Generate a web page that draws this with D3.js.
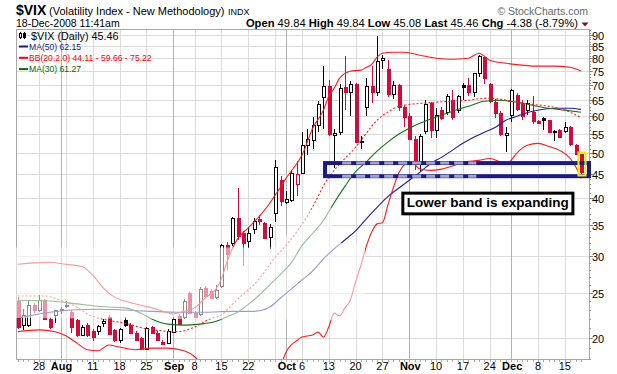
<!DOCTYPE html>
<html><head><meta charset="utf-8">
<script src="https://cdn.jsdelivr.net/npm/d3@7"></script>
<style>
body{margin:0;background:#fff;}
svg{display:block;}
text{font-family:"Liberation Sans",Arial,sans-serif;}
</style></head><body>
<svg id="c" width="617" height="374"></svg>
<script>
const dates = ["2008-07-22","2008-07-23","2008-07-24","2008-07-25","2008-07-28","2008-07-29","2008-07-30","2008-07-31",
"2008-08-01","2008-08-04","2008-08-05","2008-08-06","2008-08-07","2008-08-08","2008-08-11","2008-08-12","2008-08-13","2008-08-14","2008-08-15","2008-08-18","2008-08-19","2008-08-20","2008-08-21","2008-08-22","2008-08-25","2008-08-26","2008-08-27","2008-08-28","2008-08-29",
"2008-09-02","2008-09-03","2008-09-04","2008-09-05","2008-09-08","2008-09-09","2008-09-10","2008-09-11","2008-09-12","2008-09-15","2008-09-16","2008-09-17","2008-09-18","2008-09-19","2008-09-22","2008-09-23","2008-09-24","2008-09-25","2008-09-26","2008-09-29","2008-09-30",
"2008-10-01","2008-10-02","2008-10-03","2008-10-06","2008-10-07","2008-10-08","2008-10-09","2008-10-10","2008-10-13","2008-10-14","2008-10-15","2008-10-16","2008-10-17","2008-10-20","2008-10-21","2008-10-22","2008-10-23","2008-10-24","2008-10-27","2008-10-28","2008-10-29","2008-10-30","2008-10-31",
"2008-11-03","2008-11-04","2008-11-05","2008-11-06","2008-11-07","2008-11-10","2008-11-11","2008-11-12","2008-11-13","2008-11-14","2008-11-17","2008-11-18","2008-11-19","2008-11-20","2008-11-21","2008-11-24","2008-11-25","2008-11-26","2008-11-28",
"2008-12-01","2008-12-02","2008-12-03","2008-12-04","2008-12-05","2008-12-08","2008-12-09","2008-12-10","2008-12-11","2008-12-12","2008-12-15","2008-12-16","2008-12-17","2008-12-18"];

const open = [24.0,21.3,21.3,23.5,22.9,24.1,22.0,22.4,22.9,23.4,
22.7,21.8,20.3,21.3,20.7,20.7,21.5,22.2,20.8,19.8,
21.8,21.3,20.5,20.0,18.9,21.1,20.5,19.6,19.5,20.6,
22.3,22.2,25.0,22.6,22.5,25.6,25.2,24.5,25.8,31.7,
32.0,36.2,33.6,32.4,34.4,36.0,35.4,32.9,37.2,43.7,
39.3,39.7,43.0,45.3,52.0,53.3,57.5,66.1,69.9,54.6,
55.5,69.6,67.8,70.5,52.8,62.9,69.8,67.7,79.3,76.0,
67.2,70.0,62.9,60.0,53.7,47.5,55.8,64.0,56.0,62.0,
61.3,65.0,61.8,70.3,70.0,67.7,74.3,80.5,70.5,64.5,
61.0,54.7,60.3,66.8,64.0,61.9,61.3,58.6,59.6,58.8,
55.4,56.0,55.7,56.8,52.0,49.84];
const high = [24.5,23.1,24.0,23.8,24.7,24.3,22.2,23.0,23.3,24.0,
22.9,21.9,21.3,21.5,20.9,21.3,22.0,22.4,20.9,21.0,
22.2,21.5,20.7,20.1,21.1,21.2,20.7,19.8,20.9,22.2,
22.5,24.3,25.1,22.8,25.7,25.9,25.5,26.0,31.9,32.2,
36.5,42.16,34.0,34.7,36.3,36.8,35.6,35.2,48.4,44.6,
41.5,46.0,48.0,55.5,56.5,59.8,64.9,76.94,72.0,56.5,
70.5,81.17,71.5,71.0,54.5,72.5,77.0,89.53,81.5,79.5,
71.5,70.5,63.5,61.0,54.5,55.0,65.0,64.5,62.5,63.0,
66.9,68.5,66.8,71.0,72.5,74.5,81.48,81.0,71.0,65.5,
61.5,56.8,68.6,67.5,65.0,65.0,66.5,59.0,59.9,59.0,
56.2,56.3,58.3,57.2,52.3,49.84];
const low = [20.9,20.8,21.1,22.6,22.7,21.9,20.9,21.5,22.5,23.2,
20.5,20.1,20.2,20.1,19.7,20.3,21.1,20.3,19.6,19.5,
21.1,20.4,19.7,18.8,18.8,20.4,19.7,19.3,19.4,20.5,
21.3,22.0,22.5,22.1,22.3,24.4,24.3,24.3,25.6,28.0,
31.5,32.5,28.5,31.3,33.5,35.0,32.6,31.0,35.6,38.5,
38.8,39.2,40.5,45.0,49.5,51.0,55.5,56.5,54.5,46.5,
54.8,62.0,60.0,52.5,51.0,60.0,64.0,66.5,76.0,66.0,
65.5,61.5,56.8,53.5,46.0,45.5,55.0,54.0,54.0,59.0,
60.5,58.8,61.0,65.0,66.5,66.0,73.0,70.5,64.0,59.5,
54.5,50.3,58.5,61.5,59.0,60.5,57.8,57.9,56.0,55.5,
53.0,53.8,55.3,51.8,49.5,45.08];
const close = [21.1,22.4,23.5,22.9,24.1,22.0,21.1,22.9,23.1,23.5,
21.1,20.3,21.1,20.3,20.1,21.2,21.7,20.4,19.8,20.9,
21.3,20.5,19.8,18.9,21.0,20.5,19.8,19.4,20.7,22.0,
21.4,24.0,22.6,22.2,25.5,24.6,24.4,25.4,31.7,30.3,
36.22,33.1,32.07,33.59,35.72,35.7,32.82,34.74,46.72,39.39,
39.81,45.26,45.14,52.05,53.68,57.53,63.92,69.95,54.99,55.13,
69.25,67.61,70.33,52.97,53.11,69.65,67.8,79.13,80.06,66.96,
69.96,62.9,59.89,53.68,47.73,54.56,63.68,56.1,60.3,59.6,
66.46,59.83,66.31,69.5,67.64,74.26,80.86,72.67,64.7,60.9,
54.92,55.28,68.51,62.36,60.2,64.1,58.6,58.2,58.9,55.6,
55.8,54.3,56.8,52.2,49.84,45.46];

// overlays: [trading-day index] and value
const upperDays = [0,3,6,9,12,14,16,18,20,23,26,29,31,33,35,37,38,39,40,41,43,45,47,48,49,50,51,53,55,57,58,59,60,62,64,65,66,67,68,70,72,75,78,81,84,86,88,91,94,97,100,103,105];
const upperBand = [28.8,29.0,29.1,28.8,28.5,27.3,25.6,24.5,24.0,23.5,23.05,22.5,22.8,23.2,24.4,25.5,26.8,29.1,31.1,32.7,34.5,36.5,39.0,40.6,42.2,44.1,45.7,49.5,56.6,61.9,66.3,69.0,72.5,75.1,75.5,76.6,77.7,80.5,82.1,82.5,82.5,81.3,80.1,79.7,80.1,82.1,79.3,78.1,77.4,77.0,77.0,76.6,75.22];
const midDays = [0,5,8,11,13,17,20,24,27,29,31,33,36,38,40,42,44,46,48,50,52,54,56,57,59,61,63,65,67,69,71,73,75,78,81,84,87,90,93,96,99,102,105];
const midBand = [24.6,24.6,24.1,23.3,22.5,21.8,21.5,20.9,20.7,20.6,20.7,21.1,22.0,22.4,23.6,24.8,26.0,27.7,29.8,31.6,33.8,36.6,40.3,42.5,45.9,48.7,51.5,55.2,58.9,61.3,63.1,63.7,64.0,64.4,64.7,65.0,65.7,65.3,64.4,63.7,63.1,61.9,59.66];
const lowerDays = [0,4,7,9,11,13,15,17,19,22,25,28,31,33,34,35,36,38,40,42,44,46,48,49,50,51,52,53,55,56,57,58,59,60,61,62,63,64,65,66,67,68,69,70,71,72,73,74,75,77,79,81,83,86,88,90,91,92,93,94,95,97,99,101,103,104,105];
const lowerBand = [20.6,20.8,20.6,20.2,19.5,18.85,18.75,19.3,19.1,18.85,19.0,19.0,18.75,18.2,17.7,17.0,16.2,14.5,13.0,12.5,13.0,14.5,16.0,17.3,18.6,19.3,19.7,20.07,20.27,20.57,20.07,21.1,22.6,22.3,23.2,24.1,26.4,28.7,31.5,33.8,35.2,35.4,38.6,42.0,45.2,47.1,47.8,47.3,46.2,45.9,46.2,46.9,47.8,48.25,48.7,47.8,47.3,48.3,49.95,51.2,52.0,52.5,51.7,50.7,48.7,46.8,44.11];
const ma30Days = [0,6,12,17,20,23,25,28,31,34,37,39,41,43,45,47,49,51,53,55,57,59,61,63,65,67,69,71,73,75,78,81,84,87,90,93,96,99,102,105];
const ma30 = [24.1,24.0,23.6,23.3,23.2,22.6,21.95,21.4,21.3,21.4,21.7,22.2,22.7,23.6,24.7,26.0,27.4,29.0,31.6,33.6,35.8,39.1,42.4,45.6,47.9,50.5,52.8,54.9,56.6,58.0,59.8,61.5,63.1,64.7,65.0,64.4,63.4,62.5,61.9,61.27];
const ma50Days = [0,3,6,10,15,20,25,30,35,40,44,47,49,51,53,55,57,59,61,63,65,67,69,71,73,75,77,79,81,83,85,87,89,91,93,95,97,100,103,105];
const ma50 = [22.05,22.4,22.7,22.95,23.05,22.95,22.8,22.7,22.7,22.8,22.8,23.3,24.36,25.47,26.64,27.86,29.6,31.1,32.5,34.0,36.1,38.2,40.3,42.0,43.7,45.5,47.5,48.97,50.7,52.5,54.1,55.5,56.8,58.9,60.0,61.2,61.9,62.5,62.5,62.15];

const yTicks = [20,25,30,35,40,45,50,55,60,65,70,75,80,85,90];
const xTickDates = ["2008-07-28","2008-08-01","2008-08-11","2008-08-18","2008-08-25","2008-09-02","2008-09-08","2008-09-15","2008-09-22","2008-10-01","2008-10-06","2008-10-13","2008-10-20","2008-10-27","2008-11-03","2008-11-10","2008-11-17","2008-11-24","2008-12-01","2008-12-08","2008-12-15"];
const xTickLabels = ["28","Aug","11","18","25","Sep","8","15","22","Oct","6","13","20","27","Nov","10","17","24","Dec","8","15"];

const legendItems = [
  {label:"MA(50) 62.15", color:"#1a1a8c"},
  {label:"BB(20,2.0) 44.11 - 59.66 - 75.22", color:"#ff0000"},
  {label:"MA(30) 61.27", color:"#0b650b"}
];

// ---------------------------------------------------------------
const svg = d3.select("#c");
const L=16, R=589, T=29, B=359;
const x = d3.scaleLinear().domain([-0.3, 106.5]).range([L, R]);
const y = d3.scaleLog().domain([18, 92.6]).range([B, T]);
const idx = d => dates.indexOf(d);
const RED = "#d40b3a";

svg.append("defs").append("clipPath").attr("id","plot")
  .append("rect").attr("x",L).attr("y",T).attr("width",R-L).attr("height",B-T);

// grid
const g = svg.append("g");
yTicks.forEach(v=>{
  const yy = Math.round(y(v))+0.5;
  g.append("line").attr("x1",L).attr("x2",R).attr("y1",yy).attr("y2",yy).attr("stroke","#dcdcdc");
});
const parse = d3.timeParse("%Y-%m-%d");
const pd = dates.map(parse);
pd.forEach((d,i)=>{
  if(i===0) return;
  const prev = pd[i-1];
  const monthStart = d.getMonth()!==prev.getMonth();
  const weekStart = d.getDay() < prev.getDay() || (d - prev) > 3*864e5;
  if(monthStart || weekStart){
    const xx = Math.round(x(i))+0.5;
    g.append("line").attr("x1",xx).attr("x2",xx).attr("y1",T).attr("y2",B)
      .attr("stroke", monthStart ? "#b4b4b4" : "#dcdcdc");
  }
});

svg.append("rect").attr("x",L+0.5).attr("y",T+0.5).attr("width",R-L).attr("height",B-T)
  .attr("fill","none").attr("stroke","#a8a8a8");

// candles
const cg = svg.append("g").attr("clip-path","url(#plot)");
dates.forEach((d,i)=>{
  const cx = Math.round(x(i));
  const up = i===0 ? close[i]>=open[i] : close[i]>=close[i-1];
  const col = up ? "#000" : RED;
  const hollow = close[i]>=open[i];
  const yT = Math.round(y(Math.max(open[i],close[i])));
  const yB = Math.round(y(Math.min(open[i],close[i])));
  const yH = Math.round(y(high[i])), yL = Math.round(y(low[i]));
  if(hollow){
    cg.append("line").attr("x1",cx+0.5).attr("x2",cx+0.5).attr("y1",yH).attr("y2",yT).attr("stroke",col);
    cg.append("line").attr("x1",cx+0.5).attr("x2",cx+0.5).attr("y1",Math.max(yB,yT+1)).attr("y2",yL).attr("stroke",col);
    cg.append("rect").attr("x",cx-0.5).attr("y",yT+0.5).attr("width",3).attr("height",Math.max(1,yB-yT))
      .attr("fill","#fff").attr("stroke",col);
  } else {
    cg.append("line").attr("x1",cx+0.5).attr("x2",cx+0.5).attr("y1",yH).attr("y2",yL).attr("stroke",col);
    cg.append("rect").attr("x",cx-1).attr("y",yT).attr("width",4).attr("height",Math.max(1,yB-yT+1))
      .attr("fill",col);
  }
});

// overlay lines
const lg = svg.append("g").attr("clip-path","url(#plot)");
function drawLine(days, vals, color, dash, w){
  const line = d3.line().x((d,k)=>x(days[k])).y(v=>y(v)).curve(d3.curveMonotoneX);
  lg.append("path").attr("d", line(vals)).attr("fill","none").attr("stroke",color)
    .attr("stroke-width",w||1.1).attr("stroke-dasharray",dash||null);
}
drawLine(ma50Days, ma50, "#1f1fa0");
drawLine(ma30Days, ma30, "#137313");
drawLine(upperDays, upperBand, "#ff1a1a");
drawLine(lowerDays, lowerBand, "#ff1a1a");
drawLine(midDays, midBand, "#ff1a1a", "2,2");

// faded region of the picture (data coordinates: [day index, value])
const fadeShape = [[-0.3,31.3],[48.0,31.3],[58.2,41.6],[58.8,32.0],[64.75,32.0],[64.75,21.84],[-0.3,22.05]];
svg.append("path").attr("clip-path","url(#plot)")
  .attr("d", d3.line().x(p=>x(p[0])).y(p=>y(p[1]))(fadeShape)+"Z")
  .attr("fill","#fff").attr("fill-opacity",0.55);

// right axis
const ax = svg.append("g");
for(let v=18; v<=92; v++){
  const yy = Math.round(y(v))+0.5;
  ax.append("line").attr("x1",R).attr("x2",R+2).attr("y1",yy).attr("y2",yy).attr("stroke","#999");
}
yTicks.forEach(v=>{
  const yy = Math.round(y(v))+0.5;
  ax.append("line").attr("x1",R).attr("x2",R+4).attr("y1",yy).attr("y2",yy).attr("stroke","#888");
  ax.append("text").attr("x",R+3).attr("y",yy+4).attr("font-size",11).attr("fill","#000").text(v);
});
dates.forEach((d,i)=>{
  const xx = Math.round(x(i))+0.5;
  ax.append("line").attr("x1",xx).attr("x2",xx).attr("y1",B+1).attr("y2",B+3).attr("stroke","#aaa");
});
xTickDates.forEach((d,k)=>{
  const lab = xTickLabels[k];
  const bold = isNaN(+lab);
  ax.append("text").attr("x",x(idx(d))+(bold?1:0)).attr("y",370).attr("text-anchor","middle")
    .attr("font-size",11).attr("font-weight",bold?"bold":"normal").text(lab);
});

// annotations
const ann = svg.append("g");
const rx1 = x(57.3), rx2 = x(106.5), ry1 = y(47.6), ry2 = y(44.6);
ann.append("rect").attr("x",rx1).attr("y",ry1).attr("width",rx2-rx1).attr("height",ry2-ry1)
  .attr("fill","none").attr("stroke","#1a1a8c").attr("stroke-width",4);
// lighter dashed look on the left part of the rectangle
const fx1 = x(60.5), fx2 = x(85.5);
[ry1, ry2].forEach(yy=>{
  ann.append("line").attr("x1",fx1).attr("x2",fx2).attr("y1",yy).attr("y2",yy)
    .attr("stroke","#fff").attr("stroke-opacity",0.6).attr("stroke-width",3).attr("stroke-dasharray","9,5");
});
const li = dates.length-1;
ann.append("rect").attr("x",Math.round(x(li))-2.5).attr("y",Math.round(y(high[li]))-1.5)
  .attr("width",7).attr("height",Math.round(y(low[li]))-Math.round(y(high[li]))+3)
  .attr("fill","none").attr("stroke","#f2ee00").attr("stroke-width",2);
const bx1 = x(71.8), bx2 = x(103.5), by1 = y(41.0), by2 = y(37.0);
ann.append("rect").attr("x",bx1).attr("y",by1).attr("width",bx2-bx1).attr("height",by2-by1)
  .attr("fill","#fff").attr("stroke","#000").attr("stroke-width",3);
ann.append("text").attr("x",(bx1+bx2)/2).attr("y",by2-6.5).attr("text-anchor","middle")
  .attr("font-size",13.5).attr("font-weight","bold").text("Lower band is expanding");

// legend
const leg = svg.append("g");
leg.append("line").attr("x1",20.5).attr("x2",20.5).attr("y1",32).attr("y2",39).attr("stroke","#000");
leg.append("rect").attr("x",19.5).attr("y",33.5).attr("width",2).attr("height",4).attr("fill","#fff").attr("stroke","#000");
leg.append("line").attr("x1",24.5).attr("x2",24.5).attr("y1",32).attr("y2",39).attr("stroke","#000");
leg.append("rect").attr("x",23).attr("y",33).attr("width",3).attr("height",5).attr("fill","#000");
leg.append("text").attr("x",31).attr("y",39.5).attr("font-family","DejaVu Sans").attr("font-size",10.8).text("$VIX (Daily) 45.46");
legendItems.forEach((it,k)=>{
  const yy = 46.5 + k*11.3;
  leg.append("line").attr("x1",19).attr("x2",28).attr("y1",yy).attr("y2",yy).attr("stroke",it.color).attr("stroke-width",2);
  leg.append("text").attr("x",29).attr("y",yy+3.3).attr("font-family","DejaVu Sans").attr("font-size",8.6)
    .attr("fill",it.color).text(it.label);
});

// header
const h = svg.append("g");
h.append("text").attr("x",16).attr("y",15).attr("font-size",14).attr("font-weight","bold").text("$VIX");
h.append("text").attr("x",49).attr("y",15).attr("font-size",11).text("(Volatility Index - New Methodology)");
h.append("text").attr("x",228).attr("y",15).attr("font-size",9).text("INDX");
h.append("text").attr("x",16).attr("y",26.5).attr("font-size",10.5).text("18-Dec-2008 11:41am");
h.append("text").attr("x",588).attr("y",15).attr("text-anchor","end").attr("font-size",10.5).attr("fill","#666").text("\u00A9 StockCharts.com");
const q = h.append("text").attr("x",578).attr("y",26.5).attr("text-anchor","end").attr("font-size",11.2);
[["Open",1],[" 49.84 ",0],["High",1],[" 49.84 ",0],["Low",1],[" 45.08 ",0],["Last",1],[" 45.46 ",0],["Chg",1],[" -4.38 (-8.79%)",0]]
  .forEach(([t,b])=>q.append("tspan").attr("font-weight",b?"bold":"normal").text(t));
h.append("path").attr("d","M581.5,22.5 L588.5,22.5 L585,26.5 Z").attr("fill","#8c0a2a");
</script>
</body></html>
